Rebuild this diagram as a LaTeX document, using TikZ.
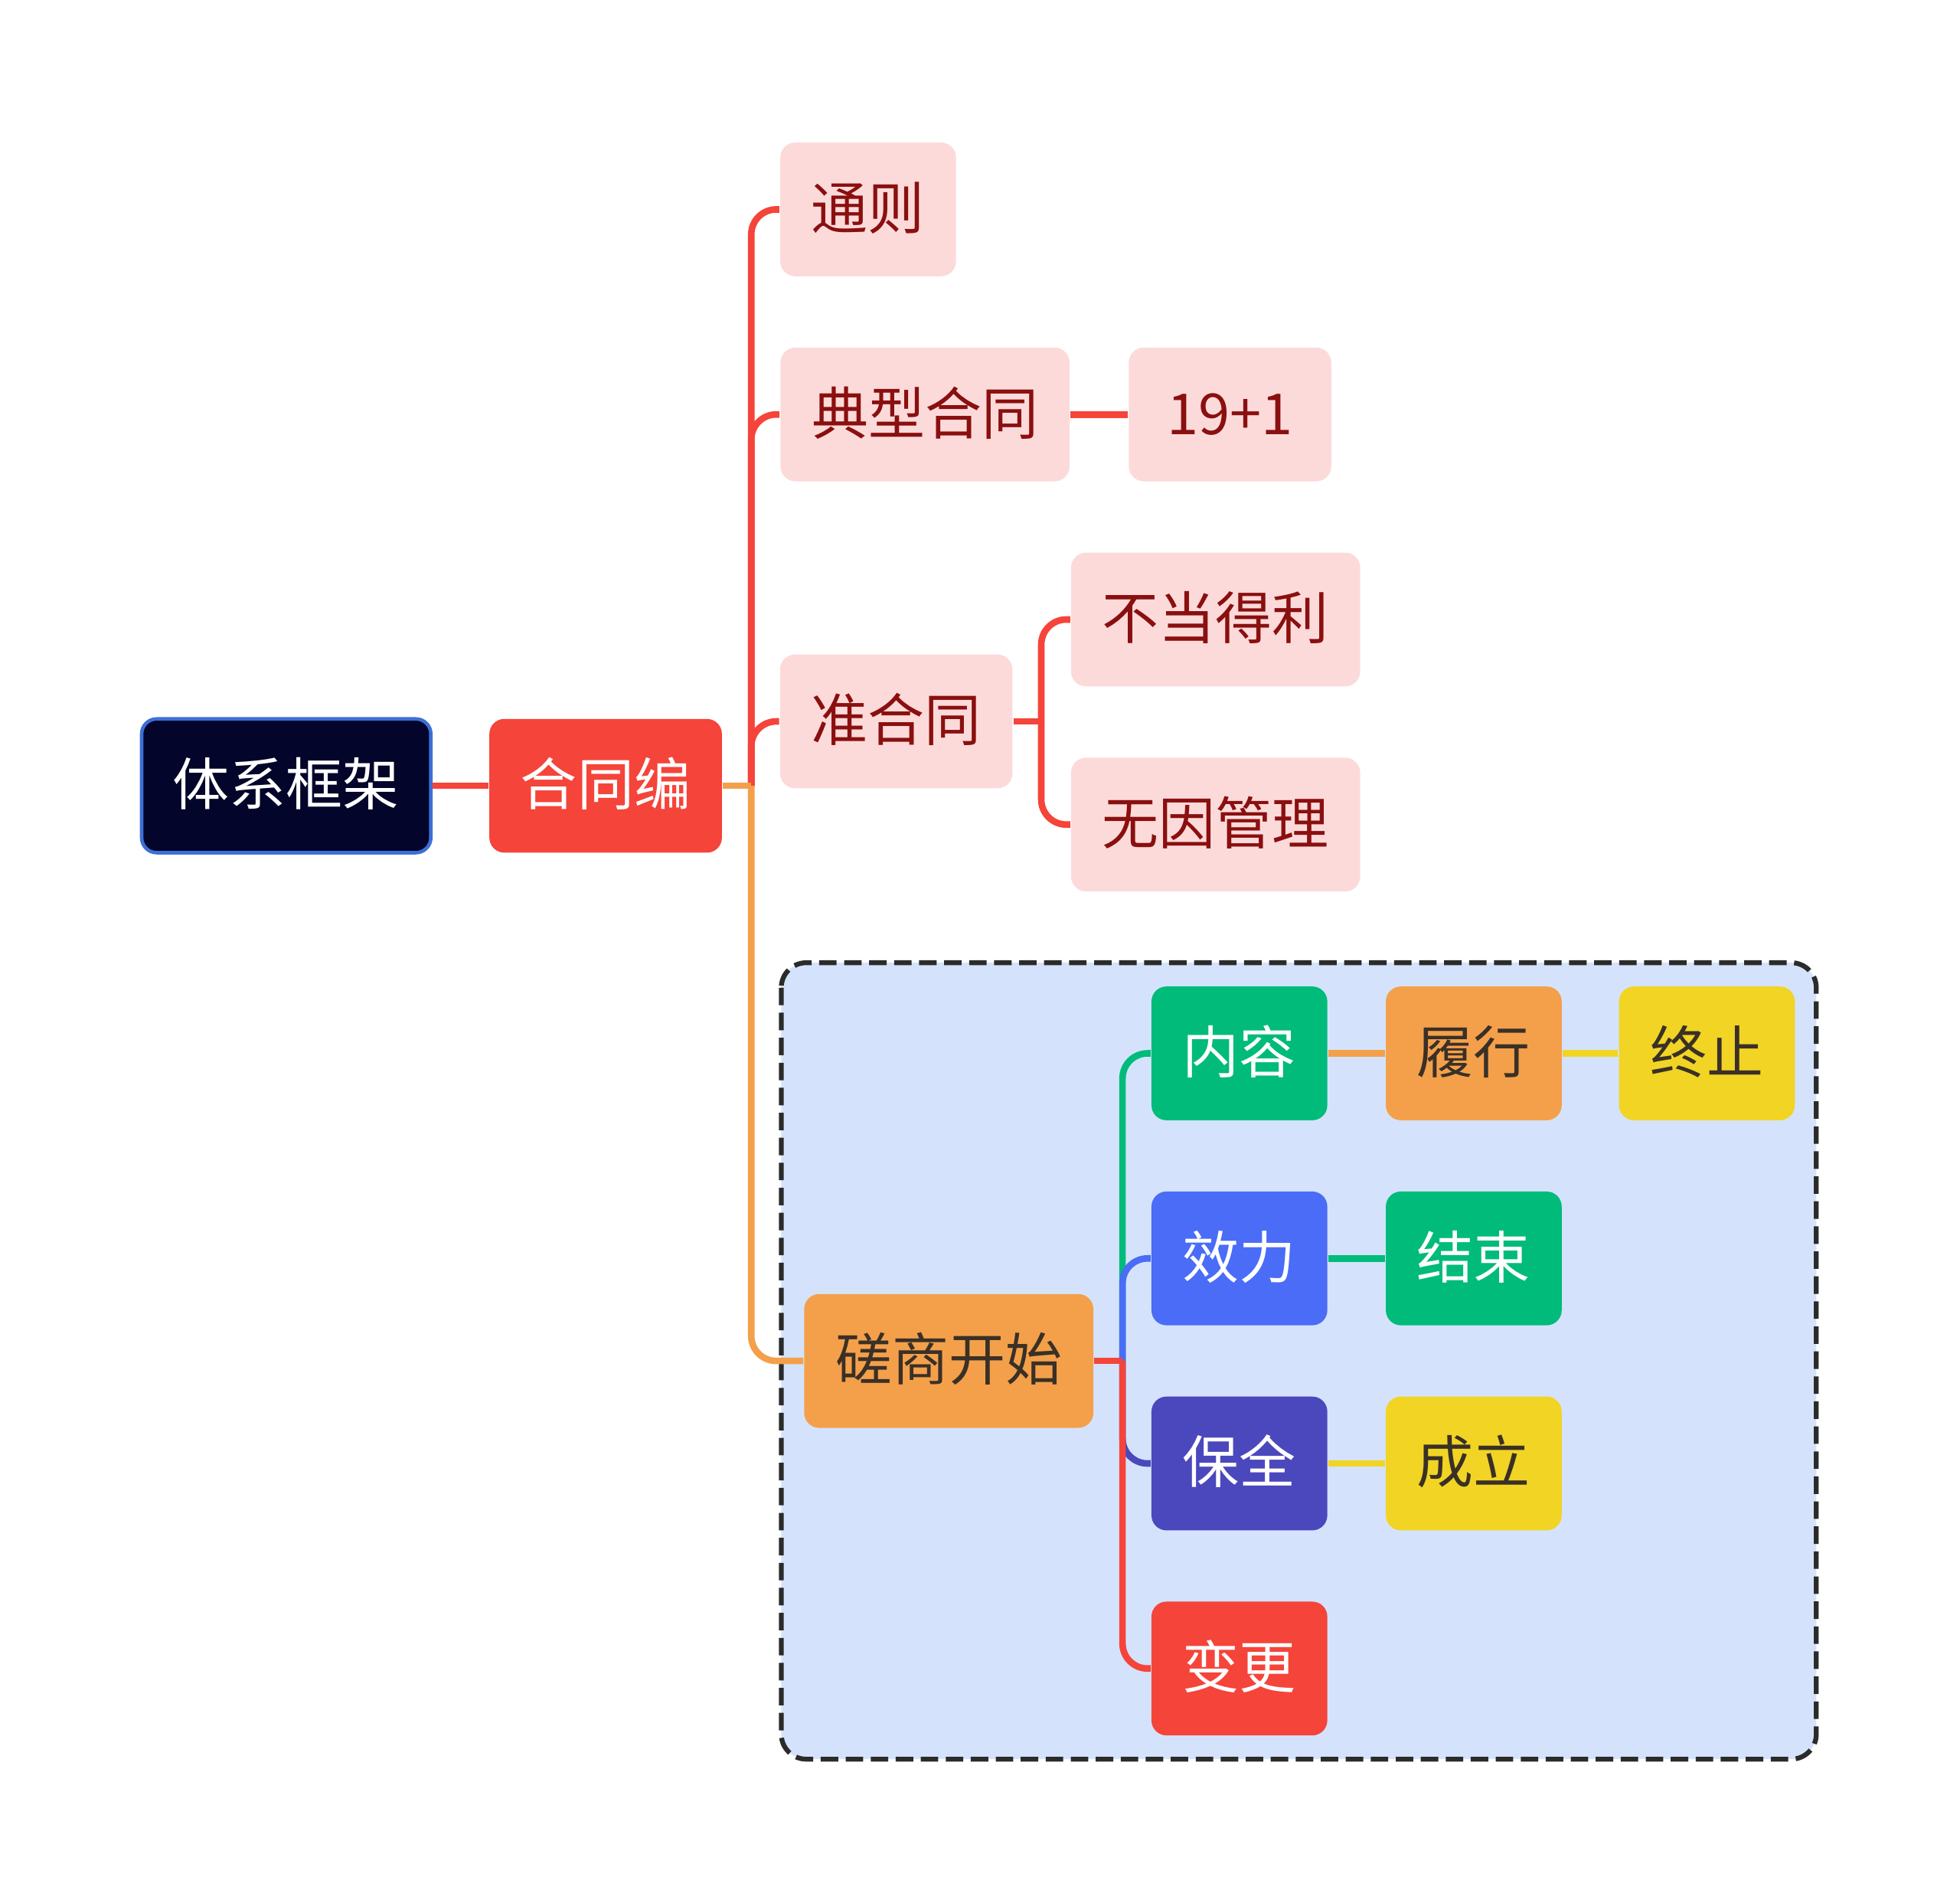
\documentclass[tikz,border=0pt]{standalone}
\usepackage{fontspec}
\newfontfamily\cjk{Noto Sans CJK SC}

\definecolor{navy}{HTML}{03052A}
\definecolor{navyline}{HTML}{3D6FD6}
\definecolor{hred}{HTML}{F5443A}
\definecolor{pinkbg}{HTML}{FDDADA}
\definecolor{maroon}{HTML}{8A0F0F}
\definecolor{horange}{HTML}{F4A04B}
\definecolor{hgreen}{HTML}{00BB7A}
\definecolor{hblue}{HTML}{4A6CF7}
\definecolor{hindigo}{HTML}{4B48BD}
\definecolor{hyellow}{HTML}{F2D424}
\definecolor{darktext}{HTML}{3A3026}
\definecolor{panelbg}{HTML}{D4E3FB}
\definecolor{panelline}{HTML}{2B2B2B}

\tikzset{
  box/.style={rounded corners=0.12cm, minimum height=1.07cm, inner xsep=0.25cm,
    text height=0.92em, text depth=0.02em, font=\cjk\fontsize{12.9}{15}\selectfont},
  rootbox/.style={box, fill=navy, draw=navyline, line width=0.8pt, text=white},
  pinkbox/.style={box, fill=pinkbg, text=maroon},
  redbox/.style={box, fill=hred, text=white},
  orangebox/.style={box, fill=horange, text=darktext},
  greenbox/.style={box, fill=hgreen, text=white},
  bluebox/.style={box, fill=hblue, text=white},
  indigobox/.style={box, fill=hindigo, text=white},
  yellowbox/.style={box, fill=hyellow, text=darktext},
  link/.style={line width=1.5pt},
  branch/.style={line width=1.5pt, rounded corners=0.2cm},
}

\begin{document}
\begin{tikzpicture}
    \useasboundingbox (0,0) rectangle (15.68,-15.22);
    % panel behind the lower branch
    \draw[fill=panelbg, draw=panelline, line width=1.1pt, dash pattern=on 0.14cm off 0.06cm, rounded corners=0.2cm]
        (6.25,-7.70) rectangle (14.53,-14.07);

    \node[rootbox, minimum width=2.28cm] (sys) at (2.29,-6.285) {体系框架};
    \node[redbox] (heb) at (4.845,-6.285) {合同编};
    \node[pinkbox] (tongze) at (6.945,-1.675) {通则};
    \node[pinkbox] (dianxing) at (7.40,-3.315) {典型合同};
    \node[pinkbox, minimum width=1.62cm] (num) at (9.84,-3.315) {19+1};
    \node[pinkbox] (zhun) at (7.17,-5.77) {准合同};
    \node[pinkbox] (budang) at (9.725,-4.955) {不当得利};
    \node[pinkbox] (wuyin) at (9.725,-6.595) {无因管理};
    \node[orangebox] (cuoshang) at (7.59,-10.885) {磋商开始};
    \node[greenbox] (neirong) at (9.915,-8.425) {内容};
    \node[orangebox] (lvxing) at (11.79,-8.425) {履行};
    \node[yellowbox] (zhongzhi) at (13.655,-8.425) {终止};
    \node[bluebox] (xiaoli) at (9.915,-10.065) {效力};
    \node[greenbox] (jieshu) at (11.79,-10.065) {结束};
    \node[indigobox] (baoquan) at (9.915,-11.705) {保全};
    \node[yellowbox] (chengli) at (11.79,-11.705) {成立};
    \node[redbox] (biangeng) at (9.915,-13.345) {变更};

    % junctions
    \coordinate (j1) at (6.01,-6.285);
    \coordinate (j3) at (8.33,-5.77);
    \coordinate (j2) at (8.98,-10.885);

    \draw[link, hred] (sys) -- (heb);

    \draw[branch, hred] (j1) |- (tongze.west);
    \draw[branch, hred] (j1) |- (dianxing.west);
    \draw[branch, hred] (j1) |- (zhun.west);
    \draw[branch, horange] (j1) |- (cuoshang.west);
    \draw[link, horange] (heb.east) -- (j1);

    \draw[link, hred] (dianxing) -- (num);

    \draw[branch, hred] (j3) |- (budang.west);
    \draw[branch, hred] (j3) |- (wuyin.west);
    \draw[link, hred] (zhun.east) -- (j3);

    \draw[branch, hgreen] (j2) |- (neirong.west);
    \draw[branch, hblue] (j2) |- (xiaoli.west);
    \draw[branch, hindigo] (j2) |- (baoquan.west);
    \draw[branch, hred] (j2) |- (biangeng.west);
    \draw[link, hred] (cuoshang.east) -- (j2);

    \draw[link, horange] (neirong) -- (lvxing);
    \draw[link, hyellow] (lvxing) -- (zhongzhi);
    \draw[link, hgreen] (xiaoli) -- (jieshu);
    \draw[link, hyellow] (baoquan) -- (chengli);
\end{tikzpicture}
\end{document}
